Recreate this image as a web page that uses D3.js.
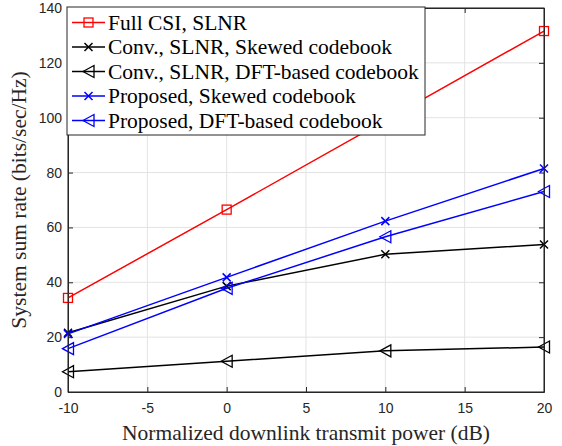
<!DOCTYPE html>
<html>
<head>
<meta charset="utf-8">
<script src="https://cdn.jsdelivr.net/npm/d3@7"></script>
<style>
  body { margin: 0; background: #fff; }
  svg { display: block; }
</style>
</head>
<body>
<svg width="562" height="446"></svg>
<script>
// données
const xValues = [-10, 0, 10, 20];
const fullCsi = [34.3, 66.5, 99, 131.6];
const convSkewed = [21.6, 38.6, 50.2, 53.8];
const convDft = [7.4, 11.2, 15, 16.4];
const propSkewed = [21.2, 41.8, 62.3, 81.5];
const propDft = [15.8, 37.8, 56.6, 73.1];
const xTicks = [-10, -5, 0, 5, 10, 15, 20];
const yTicks = [0, 20, 40, 60, 80, 100, 120, 140];

const series = [
  { name: "Full CSI, SLNR", values: fullCsi, color: "#ff0000", marker: "square" },
  { name: "Conv., SLNR, Skewed codebook", values: convSkewed, color: "#000000", marker: "cross" },
  { name: "Conv., SLNR, DFT-based codebook", values: convDft, color: "#000000", marker: "triangle" },
  { name: "Proposed, Skewed codebook", values: propSkewed, color: "#0000ff", marker: "cross" },
  { name: "Proposed, DFT-based codebook", values: propDft, color: "#0000ff", marker: "triangle" }
];

const width = 562, height = 446;
const margin = { top: 8, right: 18, bottom: 54, left: 68 };
const svg = d3.select("svg");

const x = d3.scaleLinear().domain([-10, 20]).range([margin.left, width - margin.right]);
const y = d3.scaleLinear().domain([0, 140]).range([height - margin.bottom, margin.top]);

const axisColor = "#262626";
const serif = "'Liberation Serif', 'Times New Roman', serif";

// grille
svg.append("g")
  .selectAll("line")
  .data(xTicks)
  .enter().append("line")
  .attr("x1", d => x(d)).attr("x2", d => x(d))
  .attr("y1", y(0)).attr("y2", y(140))
  .attr("stroke", "#e3e3e3").attr("stroke-width", 1);
svg.append("g")
  .selectAll("line")
  .data(yTicks)
  .enter().append("line")
  .attr("y1", d => y(d)).attr("y2", d => y(d))
  .attr("x1", x(-10)).attr("x2", x(20))
  .attr("stroke", "#e3e3e3").attr("stroke-width", 1);

// axes (ticks vers l'intérieur, sur les 4 côtés)
function styleAxis(g) {
  g.select(".domain").attr("stroke", axisColor);
  g.selectAll(".tick line").attr("stroke", axisColor);
  g.selectAll("text")
    .attr("fill", axisColor)
    .style("font-family", "'Liberation Sans', Arial, sans-serif")
    .style("font-size", "14px");
}

const fmt = d => String(d);

svg.append("g")
  .attr("transform", `translate(0,${y(0)})`)
  .call(d3.axisBottom(x).tickValues(xTicks).tickFormat(fmt).tickSize(-5).tickPadding(11).tickSizeOuter(0))
  .call(styleAxis);
svg.append("g")
  .attr("transform", `translate(0,${y(140)})`)
  .call(d3.axisTop(x).tickValues(xTicks).tickSize(-5).tickFormat("").tickSizeOuter(0))
  .call(styleAxis);
svg.append("g")
  .attr("transform", `translate(${x(-10)},0)`)
  .call(d3.axisLeft(y).tickValues(yTicks).tickFormat(fmt).tickSize(-5).tickPadding(6).tickSizeOuter(0))
  .call(styleAxis);
svg.append("g")
  .attr("transform", `translate(${x(20)},0)`)
  .call(d3.axisRight(y).tickValues(yTicks).tickSize(-5).tickFormat("").tickSizeOuter(0))
  .call(styleAxis);

// marqueurs
function drawMarker(g, type, color, cx, cy) {
  if (type === "square") {
    g.append("rect")
      .attr("x", cx - 4.5).attr("y", cy - 4.5)
      .attr("width", 9).attr("height", 9)
      .attr("fill", "none").attr("stroke", color).attr("stroke-width", 1.3);
  } else if (type === "cross") {
    g.append("path")
      .attr("d", `M${cx - 4},${cy - 4}L${cx + 4},${cy + 4}M${cx - 4},${cy + 4}L${cx + 4},${cy - 4}`)
      .attr("stroke", color).attr("stroke-width", 1.5);
  } else {
    g.append("path")
      .attr("d", `M${cx - 5.5},${cy}L${cx + 5.5},${cy - 6}L${cx + 5.5},${cy + 6}Z`)
      .attr("fill", "none").attr("stroke", color).attr("stroke-width", 1.3);
  }
}

const line = d3.line().x((d, i) => x(xValues[i])).y(d => y(d));

series.forEach(s => {
  const g = svg.append("g");
  g.append("path")
    .datum(s.values)
    .attr("d", line)
    .attr("fill", "none")
    .attr("stroke", s.color)
    .attr("stroke-width", 1.5);
  s.values.forEach((v, i) => drawMarker(g, s.marker, s.color, x(xValues[i]), y(v)));
});

// cadre
svg.append("rect")
  .attr("x", x(-10)).attr("y", y(140))
  .attr("width", x(20) - x(-10)).attr("height", y(0) - y(140))
  .attr("fill", "none").attr("stroke", axisColor).attr("stroke-width", 1);

// légende
const legend = svg.append("g");
legend.append("rect")
  .attr("x", 67).attr("y", 7)
  .attr("width", 358).attr("height", 128)
  .attr("fill", "#fff").attr("stroke", axisColor).attr("stroke-width", 1);

series.forEach((s, i) => {
  const ly = 22.5 + i * 24.5;
  legend.append("line")
    .attr("x1", 72).attr("x2", 105)
    .attr("y1", ly).attr("y2", ly)
    .attr("stroke", s.color).attr("stroke-width", 1.5);
  drawMarker(legend, s.marker, s.color, 88.5, ly);
  legend.append("text")
    .attr("x", 108).attr("y", ly + 7)
    .style("font-family", serif)
    .style("font-size", "21.5px")
    .attr("fill", "#000")
    .text(s.name);
});

// titres des axes
svg.append("text")
  .attr("x", (x(-10) + x(20)) / 2).attr("y", 440)
  .attr("text-anchor", "middle")
  .style("font-family", serif)
  .style("font-size", "21.5px")
  .attr("fill", axisColor)
  .text("Normalized downlink transmit power (dB)");

svg.append("text")
  .attr("transform", `translate(26,${(y(0) + y(140)) / 2}) rotate(-90)`)
  .attr("text-anchor", "middle")
  .style("font-family", serif)
  .style("font-size", "21.5px")
  .attr("fill", axisColor)
  .text("System sum rate (bits/sec/Hz)");
</script>
</body>
</html>
